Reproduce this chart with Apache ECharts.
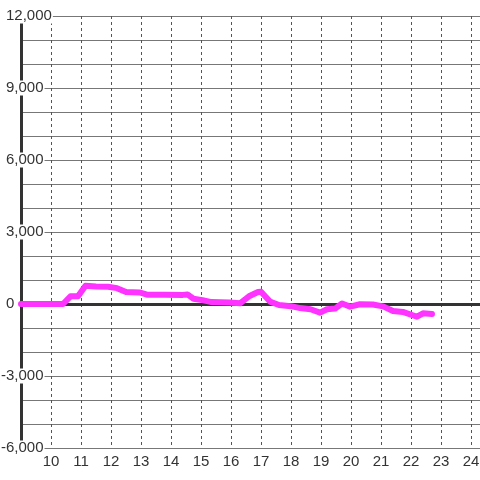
<!DOCTYPE html>
<html>
<head>
<meta charset="utf-8">
<script src="https://cdn.jsdelivr.net/npm/echarts@6/dist/echarts.min.js"></script>
<style>html,body{margin:0;padding:0;background:#fff}#c{width:480px;height:480px}</style>
</head>
<body>
<div id="c"></div>
<script>
var hours = [9.0, 10.4, 10.65, 10.9, 11.15, 11.5, 11.9, 12.2, 12.5, 12.95, 13.2, 13.8, 14.4, 14.55, 14.75, 15.05, 15.35, 15.95, 16.3, 16.6, 16.9, 17.0, 17.3, 17.6, 18.0, 18.3, 18.65, 18.97, 19.2, 19.47, 19.7, 19.97, 20.3, 20.73, 21.07, 21.4, 21.73, 22.2, 22.4, 22.7];
var values = [0, 0, 320, 320, 760, 730, 720, 660, 500, 480, 390, 390, 380, 400, 220, 160, 80, 60, 30, 320, 500, 510, 100, -40, -90, -170, -220, -360, -220, -190, 20, -110, -10, -20, -100, -290, -330, -530, -390, -420];
var yTicks = [-6000, -3000, 0, 3000, 6000, 9000, 12000];
var xTicks = [10, 11, 12, 13, 14, 15, 16, 17, 18, 19, 20, 21, 22, 23, 24];

var data = hours.map(function (h, i) { return [h, values[i]]; });
var font = "'Liberation Sans', Arial, sans-serif";
var chart = echarts.init(document.getElementById('c'));
chart.setOption({
  animation: false,
  grid: { left: 21, right: 0, top: 16, bottom: 32, containLabel: false, outerBoundsMode: 'none' },
  xAxis: [{
    type: 'value', min: 9, max: 24.3, interval: 1,
    axisLine: { show: false, onZero: false },
    axisTick: { show: false },
    axisLabel: {
      showMinLabel: false, showMaxLabel: false, fontSize: 15, color: '#333', fontFamily: font, margin: 6,
      formatter: function (v) { return xTicks.indexOf(v) >= 0 ? String(v) : ''; }
    },
    splitLine: { show: true, lineStyle: { color: '#555', width: 1, type: [3, 3] } }
  }, {
    type: 'value', min: 9, max: 24.3, position: 'bottom',
    axisLine: { show: true, onZero: true, lineStyle: { color: '#333', width: 3 } },
    axisTick: { show: false }, axisLabel: { show: false }, splitLine: { show: false }
  }],
  yAxis: {
    type: 'value', min: -6000, max: 12000, interval: 3000,
    axisLine: { show: true, onZero: false, lineStyle: { color: '#333', width: 3 } },
    axisTick: { show: false },
    axisLabel: {
      align: 'left', margin: 20,
      formatter: function (v) {
        if (yTicks.indexOf(v) < 0) return '';
        var s = v.toLocaleString('en-US');
        return v < 0 ? '{t|' + s + '}' : '{sp| }{t|' + s + '}';
      },
      rich: {
        t: { fontSize: 15, color: '#333', fontFamily: font, backgroundColor: '#fff', padding: [0, 1, 0, 0] },
        sp: { width: 5, fontSize: 15, fontFamily: font }
      }
    },
    splitLine: { show: true, lineStyle: { color: '#777', width: 1 } },
    minorTick: { show: false, splitNumber: 3 },
    minorSplitLine: { show: true, lineStyle: { color: '#777', width: 1 } }
  },
  series: [{
    type: 'line', xAxisIndex: 0, data: data, showSymbol: false, z: 5, clip: false,
    lineStyle: { color: '#ff33ff', width: 6, cap: 'round', join: 'round' }
  }]
});
</script>
</body>
</html>
